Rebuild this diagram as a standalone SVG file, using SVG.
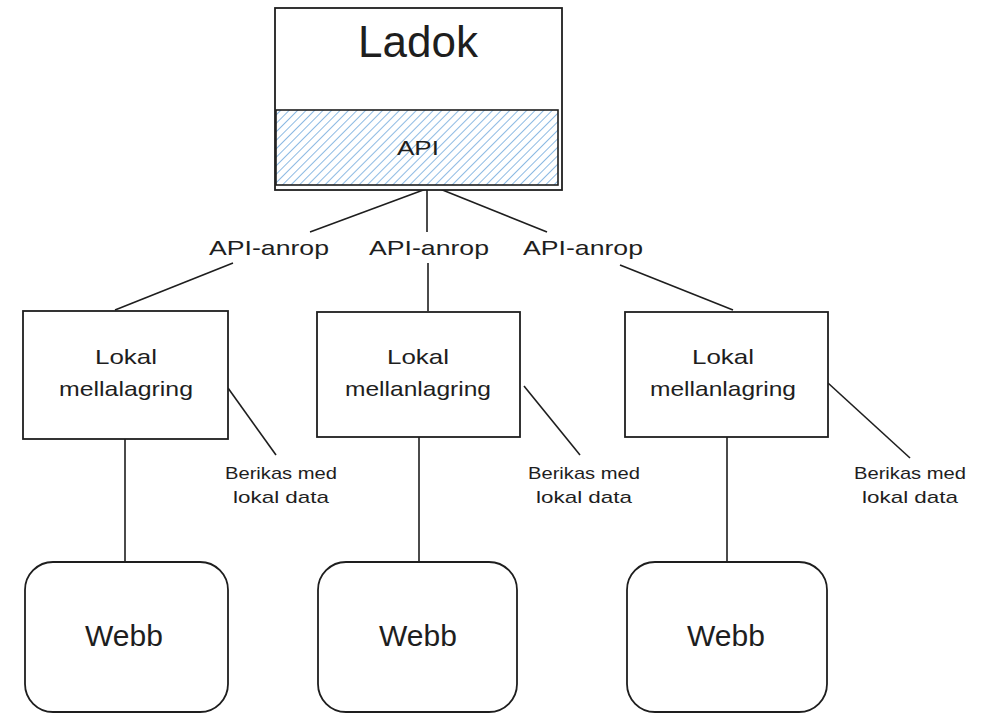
<svg xmlns="http://www.w3.org/2000/svg" width="981" height="713" viewBox="0 0 981 713">
<defs>
<pattern id="hatch" width="6" height="6" patternUnits="userSpaceOnUse" patternTransform="rotate(45)">
<line x1="0" y1="0" x2="0" y2="6" stroke="#6fa8dc" stroke-width="1.6"/>
</pattern>
<style>
.box{fill:#fff;stroke:#1e1e1e;stroke-width:1.8}
.ln{fill:none;stroke:#1e1e1e;stroke-width:1.6}
.t{font-family:"Liberation Sans","DejaVu Sans",sans-serif;fill:#1e1e1e;text-anchor:middle}
.lab{font-size:21px}
.node{font-size:21px}
.side{font-size:17px}
.webb{font-size:30px}
</style>
</defs>
<rect width="981" height="713" fill="#fff"/>

<g id="connectors">
<path class="ln" d="M426 189 L310 232"/>
<path class="ln" d="M427 189 L427 232"/>
<path class="ln" d="M440 189 L547 232"/>
<path class="ln" d="M233 263 L115 310"/>
<path class="ln" d="M428 263 L428 311"/>
<path class="ln" d="M620 265 L733 310"/>
<path class="ln" d="M228 388 L276 455"/>
<path class="ln" d="M524 386 L580 455"/>
<path class="ln" d="M828 383 L910 458"/>
<path class="ln" d="M125 439 L125 562"/>
<path class="ln" d="M419 437 L419 562"/>
<path class="ln" d="M727 437 L727 562"/>
<text class="t lab" x="269" y="255" textLength="120" lengthAdjust="spacingAndGlyphs">API-anrop</text>
<text class="t lab" x="429" y="255" textLength="120" lengthAdjust="spacingAndGlyphs">API-anrop</text>
<text class="t lab" x="583" y="255" textLength="120" lengthAdjust="spacingAndGlyphs">API-anrop</text>
<text class="t side" x="281" y="479" textLength="112" lengthAdjust="spacingAndGlyphs">Berikas med</text>
<text class="t side" x="281" y="503" textLength="96" lengthAdjust="spacingAndGlyphs">lokal data</text>
<text class="t side" x="584" y="479" textLength="112" lengthAdjust="spacingAndGlyphs">Berikas med</text>
<text class="t side" x="584" y="503" textLength="96" lengthAdjust="spacingAndGlyphs">lokal data</text>
<text class="t side" x="910" y="479" textLength="112" lengthAdjust="spacingAndGlyphs">Berikas med</text>
<text class="t side" x="910" y="503" textLength="96" lengthAdjust="spacingAndGlyphs">lokal data</text>
</g>

<g id="ladok">
<rect class="box" x="275" y="8" width="287" height="182"/>
<rect x="276" y="110" width="282" height="75" fill="url(#hatch)" stroke="#1e1e1e" stroke-width="1.6"/>
<text class="t" x="418" y="57" font-size="44">Ladok</text>
<text class="t" x="418" y="155" font-size="21" textLength="42" lengthAdjust="spacingAndGlyphs">API</text>
</g>

<g id="lokal1">
<rect class="box" x="23" y="311" width="205" height="128"/>
<text class="t node" x="126" y="364" textLength="62" lengthAdjust="spacingAndGlyphs">Lokal</text>
<text class="t node" x="126" y="396" textLength="134" lengthAdjust="spacingAndGlyphs">mellalagring</text>
</g>
<g id="lokal2">
<rect class="box" x="317" y="312" width="203" height="125"/>
<text class="t node" x="418" y="364" textLength="62" lengthAdjust="spacingAndGlyphs">Lokal</text>
<text class="t node" x="418" y="396" textLength="146" lengthAdjust="spacingAndGlyphs">mellanlagring</text>
</g>
<g id="lokal3">
<rect class="box" x="625" y="312" width="203" height="125"/>
<text class="t node" x="723" y="364" textLength="62" lengthAdjust="spacingAndGlyphs">Lokal</text>
<text class="t node" x="723" y="396" textLength="146" lengthAdjust="spacingAndGlyphs">mellanlagring</text>
</g>

<g id="webb1">
<rect class="box" x="25" y="562" width="203" height="150" rx="28"/>
<text class="t webb" x="124" y="646">Webb</text>
</g>
<g id="webb2">
<rect class="box" x="318" y="562" width="199" height="150" rx="28"/>
<text class="t webb" x="418" y="646">Webb</text>
</g>
<g id="webb3">
<rect class="box" x="627" y="562" width="200" height="150" rx="28"/>
<text class="t webb" x="726" y="646">Webb</text>
</g>
</svg>
